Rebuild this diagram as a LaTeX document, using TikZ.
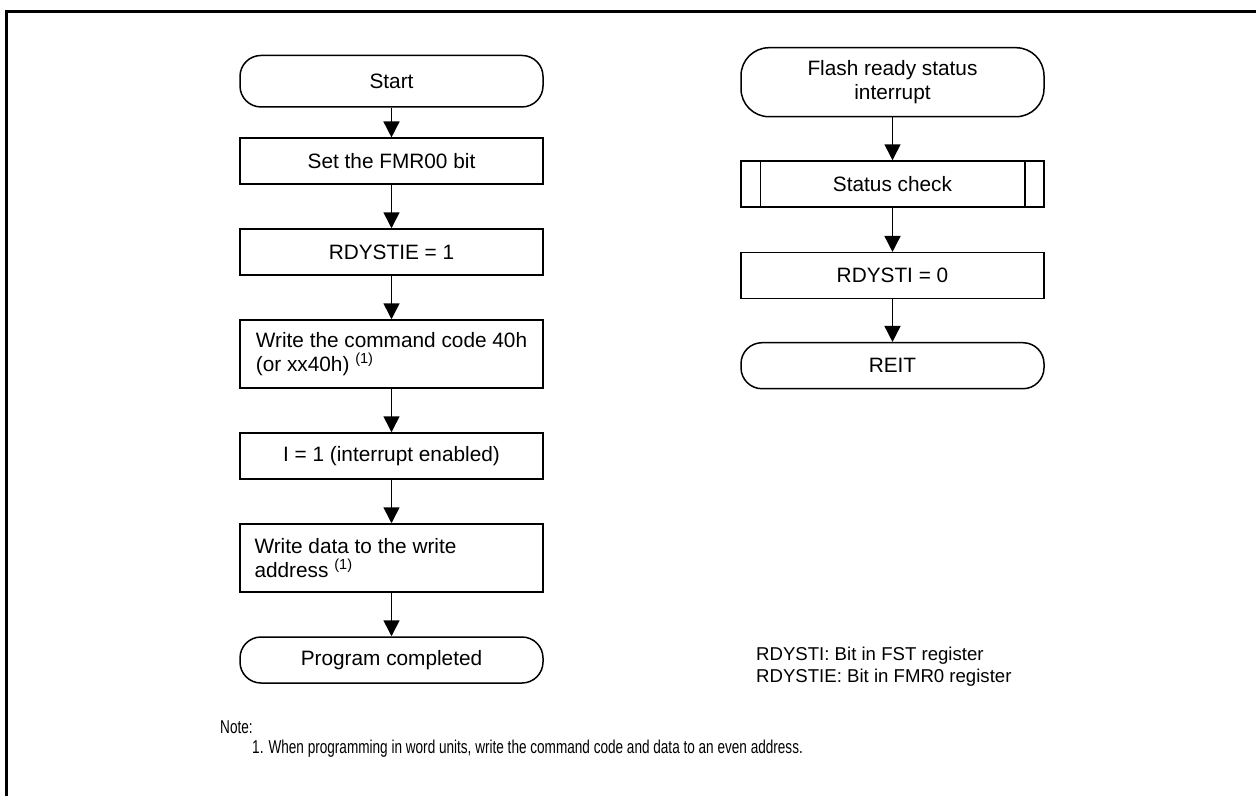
\documentclass[tikz,border=0pt]{standalone}
\usepackage{fontspec}
\setmainfont{Liberation Sans}
\newfontfamily\notefont[FakeStretch=0.73]{Liberation Sans}
\usetikzlibrary{arrows.meta}
\begin{document}
\begin{tikzpicture}[x=1pt,y=-1pt,
  box/.style={draw,line width=1.5pt,minimum width=303pt,inner sep=0pt,font=\fontsize{20.8}{23.3}\selectfont},
  term/.style={box,rounded corners=21pt},
  flow/.style={line width=1.5pt,-{Triangle[length=16pt,width=16pt]}},
  small/.style={inner sep=0pt,font=\fontsize{18.6}{22.3}\selectfont,align=left,anchor=west},
  notestyle/.style={small,font=\fontsize{18.6}{22.3}\notefont},
  lefttext/.style={align=left}
]
\useasboundingbox (0,0) rectangle (1256,796);
\draw[line width=3pt] (6.5,796) -- (6.5,11.5) -- (1256,11.5);

% left column
\node[term,minimum height=51.5pt] (start) at (391.5,81.2) {Start};
\node[box,minimum height=46pt] (set) at (391.5,161.2) {Set the FMR00 bit};
\node[box,minimum height=46pt] (rdystie) at (391.5,252) {RDYSTIE = 1};
\node[box,minimum height=68pt,lefttext] (cmd) at (391.5,354) {Write the command code 40h\\(or xx40h) \textsuperscript{(1)}};
\node[box,minimum height=46pt] (ien) at (391.5,456) {I = 1 (interrupt enabled)};
\node[box,minimum height=68pt,lefttext] (wdata) at (391.5,558) {Write data to the write\hspace{72pt}\mbox{}\\address \textsuperscript{(1)}};
\node[term,minimum height=46pt] (done) at (391.5,660) {Program completed};

\draw[flow] (start) -- (set);
\draw[flow] (set) -- (rdystie);
\draw[flow] (rdystie) -- (cmd);
\draw[flow] (cmd) -- (ien);
\draw[flow] (ien) -- (wdata);
\draw[flow] (wdata) -- (done);

% right column
\node[term,rounded corners=28pt,minimum height=69pt,align=center] (flash) at (892.5,82.2) {Flash ready status\\interrupt};
\node[box,minimum height=46pt] (status) at (892.5,184) {Status check};
\draw[line width=1.5pt] ([xshift=20pt]status.north west) -- ([xshift=20pt]status.south west);
\draw[line width=1.5pt] ([xshift=-20pt]status.north east) -- ([xshift=-20pt]status.south east);
\node[box,minimum height=46pt] (rdysti) at (892.5,275.7) {RDYSTI = 0};
\node[term,minimum height=46pt] (reit) at (892.5,365.7) {REIT};

\draw[flow] (flash) -- (status);
\draw[flow] (status) -- (rdysti);
\draw[flow] (rdysti) -- (reit);

% legend and note
\node[small] (legend) at (756,667) {RDYSTI: Bit in FST register\\RDYSTIE: Bit in FMR0 register};
\node[notestyle] (note) at (220,727) {Note:};
\node[notestyle] (note1) at (252,749) {1. When programming in word units, write the command code and data to an even address.};
\end{tikzpicture}
\end{document}
